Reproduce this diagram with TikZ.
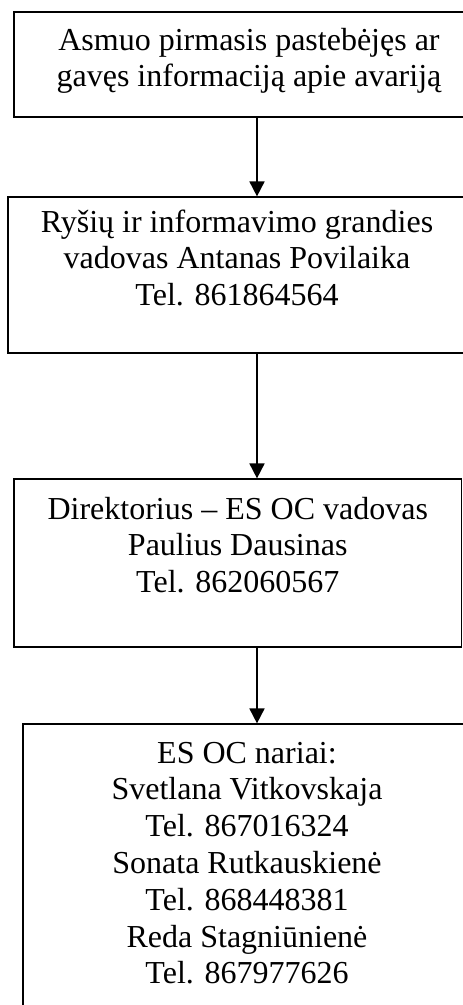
\documentclass[tikz,border=0pt]{standalone}
\usepackage{fontspec}
\setmainfont{Liberation Serif}
\usetikzlibrary{arrows.meta}
\begin{document}
\begin{tikzpicture}[x=1pt,y=-1pt,
  boxstyle/.style={draw=black,line width=1.2pt,inner sep=0pt,fill=none},
  txt/.style={align=center,inner sep=0pt,anchor=base,font=\fontsize{32}{36.8}\selectfont},
  arr/.style={line width=1.8pt,-{Triangle[width=15pt,length=15pt]}}]
\useasboundingbox (0,0) rectangle (463,1005);
\clip (0,0) rectangle (463,1005);
\node[boxstyle,minimum width=470pt,minimum height=105pt] (b1) at (249,64.5) {};
\node[boxstyle,minimum width=458pt,minimum height=156pt] (b2) at (237,275) {};
\node[boxstyle,minimum width=447.5pt,minimum height=168pt] (b3) at (237.75,563) {};
\node[boxstyle,minimum width=448pt,minimum height=320pt] (b4) at (247,884) {};
\node[txt] (t1) at (249,86.8) {Asmuo pirmasis pastebėjęs ar\\gavęs informaciją apie avariją};
\node[txt] (t2) at (237,305.6) {Ryšių ir informavimo grandies\\vadovas Antanas Povilaika\\Tel. 861864564};
\node[txt] (t3) at (237.75,592.6) {Direktorius – ES OC vadovas\\Paulius Dausinas\\Tel. 862060567};
\node[txt] (t4) at (247,983.8) {ES OC nariai:\\Svetlana Vitkovskaja\\Tel. 867016324\\Sonata Rutkauskienė\\Tel. 868448381\\Reda Stagniūnienė\\Tel. 867977626};
\coordinate (ax) at (257,0);
\draw[arr] (b1.south -| ax) -- (b2.north -| ax);
\draw[arr] (b2.south -| ax) -- (b3.north -| ax);
\draw[arr] (b3.south -| ax) -- (b4.north -| ax);
\end{tikzpicture}
\end{document}
